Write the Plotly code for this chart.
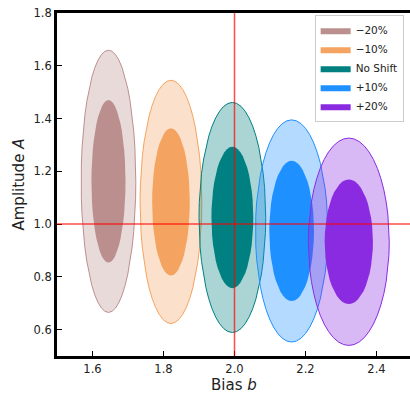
import numpy as np
import plotly.graph_objects as go

# ---- data ----
shifts = ["\u221220%", "\u221210%", "No Shift", "+10%", "+20%"]
colors = ["#BC8F8F", "#F4A460", "#008080", "#1E90FF", "#8A2BE2"]
center_b = [1.645, 1.821, 1.994, 2.161, 2.322]
center_A = [1.162, 1.084, 1.025, 0.974, 0.933]
outer_hw = [0.077, 0.087, 0.094, 0.102, 0.114]
outer_hh = [0.497, 0.461, 0.436, 0.421, 0.393]
inner_hw = [0.048, 0.053, 0.059, 0.063, 0.068]
inner_hh = [0.308, 0.279, 0.268, 0.266, 0.236]
true_b = 2.0
true_A = 1.0
x_ticks = [1.6, 1.8, 2.0, 2.2, 2.4]
y_ticks = [0.6, 0.8, 1.0, 1.2, 1.4, 1.6, 1.8]


def rgba(hexc, a):
    h = hexc.lstrip("#")
    r, g, b = int(h[0:2], 16), int(h[2:4], 16), int(h[4:6], 16)
    return f"rgba({r},{g},{b},{a})"


t = np.linspace(0, 2 * np.pi, 49)
fig = go.Figure()
for name, c, cb, ca, ow, oh, iw, ih in zip(shifts, colors, center_b, center_A,
                                           outer_hw, outer_hh, inner_hw, inner_hh):
    fig.add_trace(go.Scatter(
        x=cb + ow * np.cos(t), y=ca + oh * np.sin(t), mode="lines",
        fill="toself", fillcolor=rgba(c, 0.33), line=dict(color=c, width=1),
        showlegend=False, hoverinfo="skip"))
    fig.add_trace(go.Scatter(
        x=cb + iw * np.cos(t), y=ca + ih * np.sin(t), mode="lines",
        fill="toself", fillcolor=c, line=dict(color=c, width=0),
        name=name, showlegend=True, hoverinfo="skip"))

line_col = "rgba(255,0,0,0.7)"
fig.add_shape(type="line", xref="x", yref="paper", x0=true_b, x1=true_b, y0=0, y1=1,
              line=dict(color=line_col, width=1.5), layer="above")
fig.add_shape(type="line", xref="paper", yref="y", x0=0, x1=1, y0=true_A, y1=true_A,
              line=dict(color=line_col, width=1.5), layer="above")

axis_common = dict(showgrid=False, zeroline=False, showline=True, linecolor="black",
                   linewidth=2.8, ticks="inside", ticklen=5, tickwidth=1.4,
                   tickcolor="black", tickfont=dict(size=11.5, color="#222"),
                   automargin=False)

fig.update_layout(
    width=410, height=393,
    margin=dict(l=57, r=0, t=13, b=37),
    paper_bgcolor="white", plot_bgcolor="white",
    font=dict(family="DejaVu Sans", color="#222"),
    xaxis=dict(range=[1.5, 1.5 + 353 / 355], tickvals=x_ticks,
               ticktext=[f"{v:.1f}" for v in x_ticks], mirror=True,
               **axis_common),
    yaxis=dict(range=[0.5, 1.8], tickvals=y_ticks,
               ticktext=[f"{v:.1f}" for v in y_ticks], mirror=False,
               **axis_common),
    legend=dict(x=0.982, y=0.995, xanchor="right", yanchor="top",
                bgcolor="rgba(255,255,255,0.8)", bordercolor="#cccccc", borderwidth=1,
                font=dict(size=10.5, color="#222"), itemwidth=30),
    showlegend=True,
    annotations=[
        dict(text="Amplitude <i>A</i>", xref="paper", yref="paper", x=0, y=0.5,
             xanchor="center", yanchor="middle", xshift=-39, textangle=-90,
             showarrow=False, font=dict(size=15, color="#222")),
        dict(text="Bias <i>b</i>", xref="paper", yref="paper", x=0.5, y=0,
             xanchor="center", yanchor="middle", yshift=-28.5,
             showarrow=False, font=dict(size=15, color="#222")),
    ],
)

fig.write_html("out.html", config={"displayModeBar": False},
               post_script="document.body.style.margin='0';document.body.style.overflow='hidden';")
